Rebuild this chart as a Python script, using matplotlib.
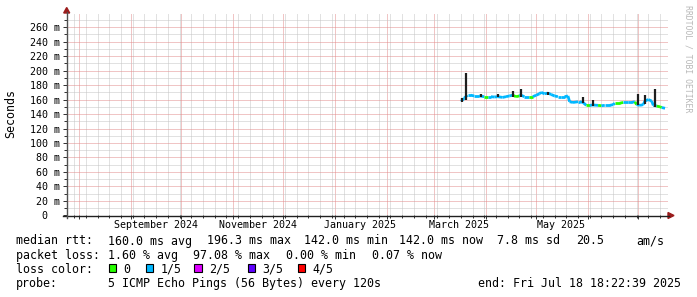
import matplotlib
matplotlib.use('Agg')
import matplotlib.pyplot as plt
import matplotlib.dates as mdates
from matplotlib.patches import Rectangle, Polygon
from matplotlib.lines import Line2D
from matplotlib.ticker import MultipleLocator
from matplotlib.transforms import blended_transform_factory
import pandas as pd

W, H = 697, 297
FONT = 'DejaVu Sans Mono'

# median rtt in ms, with the loss class (index into loss_colors) of each sample
rtt_dates = ['2025-03-17', '2025-03-18', '2025-03-19', '2025-03-21', '2025-03-23',
             '2025-03-25', '2025-03-28', '2025-03-31', '2025-04-02', '2025-04-04',
             '2025-04-06', '2025-04-08', '2025-04-11', '2025-04-13', '2025-04-15',
             '2025-04-17', '2025-04-19', '2025-04-21', '2025-04-22', '2025-04-24',
             '2025-04-27', '2025-04-29', '2025-05-01', '2025-05-03', '2025-05-04',
             '2025-05-06', '2025-05-08', '2025-05-10', '2025-05-12', '2025-05-14',
             '2025-05-16', '2025-05-18', '2025-05-20', '2025-05-21', '2025-05-23',
             '2025-05-26', '2025-05-27', '2025-05-29', '2025-05-31', '2025-06-02',
             '2025-06-04', '2025-06-07', '2025-06-09', '2025-06-11', '2025-06-14',
             '2025-06-16', '2025-06-17', '2025-06-20', '2025-06-22', '2025-06-25',
             '2025-06-27', '2025-06-29', '2025-06-30', '2025-07-02', '2025-07-04',
             '2025-07-05', '2025-07-07', '2025-07-09', '2025-07-10', '2025-07-12',
             '2025-07-14', '2025-07-15', '2025-07-17']
rtt_ms = [160, 159, 162, 166, 166,
          165, 165, 164, 164, 164,
          163.5, 164, 163, 164, 165,
          166, 164, 165, 166, 164,
          164, 164, 166, 168, 170,
          168, 169, 167, 165, 164,
          164, 164, 165, 157, 156,
          157, 157, 156, 152, 152,
          152.5, 152, 151.5, 152, 152,
          153, 155, 155, 156, 156,
          156, 157, 153, 152, 153,
          158, 160, 158, 152, 151,
          150, 149, 148]
rtt_loss = [1, 1, 1, 1, 1,
            1, 1, 0, 1, 1,
            1, 1, 1, 1, 1,
            0, 0, 1, 1, 1,
            0, 1, 1, 1, 1,
            1, 1, 1, 1, 1,
            1, 1, 1, 1, 1,
            1, 1, 1, 0, 1,
            1, 0, 1, 1, 1,
            1, 0, 0, 1, 1,
            1, 0, 1, 1, 1,
            1, 1, 1, 1, 0,
            0, 1, 1]

# smoke spikes (spread of the pings) in ms
smoke_dates = ['2025-03-18', '2025-03-20', '2025-03-29', '2025-04-08', '2025-04-17',
               '2025-04-22', '2025-05-08', '2025-05-29', '2025-06-04', '2025-07-01',
               '2025-07-05', '2025-07-11']
smoke_low = [157, 160, 164, 163, 164, 164, 167, 155, 151, 152, 154, 150]
smoke_high = [162, 196.3, 168, 168, 172, 175, 171, 163, 159, 168, 166, 174]

y_ticks = [0, 20, 40, 60, 80, 100, 120, 140, 160, 180, 200, 220, 240, 260]
y_labels = ['0', '20 m', '40 m', '60 m', '80 m', '100 m', '120 m', '140 m', '160 m',
            '180 m', '200 m', '220 m', '240 m', '260 m']
month_labels = ['September 2024', 'November 2024', 'January 2025', 'March 2025', 'May 2025']
month_label_dates = ['2024-09-16', '2024-11-16', '2025-01-16', '2025-03-16', '2025-05-16']

loss_names = ['0', '1/5', '2/5', '3/5', '4/5']
loss_colors = ['#26ff00', '#00b8ff', '#dd00ff', '#5e00ff', '#ff0000']

x_start, x_end = pd.Timestamp('2024-07-24 18:22'), pd.Timestamp('2025-07-18 18:22:39')


def fx(x):
    return x / W


def fy(y):
    return 1 - y / H


fig = plt.figure(figsize=(W / 100, H / 100), dpi=100)
fig.patch.set_facecolor('white')
ax = fig.add_axes([fx(67), fy(215.3), 601 / W, (215.3 - 13.5) / H])
ax.set_xlim(x_start, x_end)
ax.set_ylim(0, 279)
for s in ax.spines.values():
    s.set_visible(False)

ax.xaxis.set_major_locator(mdates.MonthLocator())
ax.xaxis.set_minor_locator(mdates.WeekdayLocator(byweekday=mdates.MO))
ax.yaxis.set_major_locator(MultipleLocator(20))
ax.yaxis.set_minor_locator(MultipleLocator(10))
ax.grid(which='minor', color='#c4c4c4', linestyle=(0, (1, 1)), linewidth=0.72)
ax.grid(which='major', color='#e28c8c', linestyle=(0, (1, 1)), linewidth=0.72)
ax.set_axisbelow(True)
ax.tick_params(which='both', labelbottom=False, labelleft=False, direction='out',
               color='#303030', width=0.7)
ax.tick_params(which='major', length=3)
ax.tick_params(which='minor', length=2)

# median line, coloured by loss
d = pd.to_datetime(rtt_dates)
for i in range(len(d) - 1):
    ax.plot([d[i], d[i + 1]], [rtt_ms[i], rtt_ms[i + 1]], color=loss_colors[rtt_loss[i]],
            lw=2.0, solid_capstyle='butt', zorder=3)
ax.vlines(pd.to_datetime(smoke_dates), smoke_low, smoke_high, color='#1e1e1e', lw=1.6, zorder=4)

# axis lines and arrows
fig.add_artist(Line2D([fx(62.5), fx(669)], [fy(215.5), fy(215.5)], color='#202020', lw=1.0))
fig.add_artist(Line2D([fx(66.7), fx(66.7)], [fy(218), fy(12)], color='#505050', lw=1.0))
fig.add_artist(Polygon([[fx(668), fy(212.5)], [fx(674), fy(215.5)], [fx(668), fy(218.5)]],
                       closed=True, color='#9b1c1c'))
fig.add_artist(Polygon([[fx(63.7), fy(13)], [fx(66.7), fy(7.5)], [fx(69.7), fy(13)]],
                       closed=True, color='#9b1c1c'))

# axis labels
ytr = blended_transform_factory(fig.transFigure, ax.transData)
for v, lab in zip(y_ticks, y_labels):
    xr = 47 if lab == '0' else 60
    ax.text(fx(xr), v, lab, transform=ytr, ha='right', va='center_baseline',
            fontsize=7.2, family=FONT, color='black')
xtr = blended_transform_factory(ax.transData, fig.transFigure)
for dt, lab in zip(pd.to_datetime(month_label_dates), month_labels):
    ax.text(dt, fy(227.5), lab, transform=xtr, ha='center', va='baseline',
            fontsize=7.2, family=FONT, color='black')

fig.text(fx(11.2), fy(114), 'Seconds', rotation=90, ha='center', va='center',
         fontsize=8.4, family=FONT)
fig.text(fx(688.3), fy(5), 'RRDTOOL / TOBI OETIKER', rotation=270, ha='center', va='top',
         fontsize=5.9, family=FONT, color='#b8b8b8')

# legend block
legend_rows = [
    (244.5, [(16, 'median rtt:'), (107.7, '160.0 ms avg'), (207.3, '196.3 ms max'),
             (304, '142.0 ms min'), (399, '142.0 ms now'), (497, '7.8 ms sd'),
             (576, '20.5'), (636, 'am/s')]),
    (258.7, [(16, 'packet loss:'), (107.7, '1.60 % avg'), (193.3, '97.08 % max'),
             (286, '0.00 % min'), (372, '0.07 % now')]),
    (272.9, [(16, 'loss color:')]),
    (287.1, [(16, 'probe:'), (107.7, '5 ICMP Echo Pings (56 Bytes) every 120s'),
             (478.3, 'end: Fri Jul 18 18:22:39 2025')]),
]
for yb, items in legend_rows:
    for x, t in items:
        fig.text(fx(x), fy(yb), t, ha='left', va='baseline', fontsize=8.4, family=FONT)

swatch_x = [108.7, 145.7, 194.3, 247.7, 297.7]
for sx, name, col in zip(swatch_x, loss_names, loss_colors):
    fig.add_artist(Rectangle((fx(sx), fy(272.3)), 7.5 / W, 8 / H, transform=fig.transFigure,
                             facecolor=col, edgecolor='black', lw=0.8))
    fig.text(fx(sx + 14.5), fy(272.9), name, ha='left', va='baseline', fontsize=8.4, family=FONT)

fig.savefig('out.png', dpi=100, facecolor='white')
